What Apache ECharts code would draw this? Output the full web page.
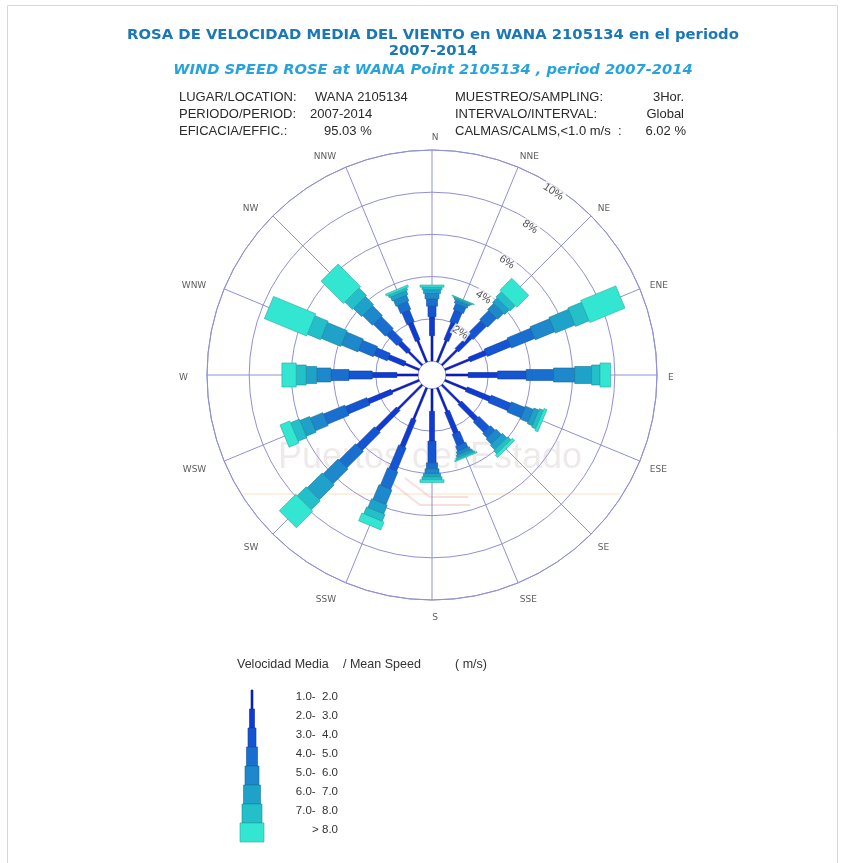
<!DOCTYPE html>
<html><head><meta charset="utf-8">
<script src="https://cdn.jsdelivr.net/npm/echarts@6/dist/echarts.min.js"></script>
<style>html,body{margin:0;padding:0;background:#fff}#c{width:843px;height:863px}</style>
</head><body><div id="c"></div>
<script>
// ---- data ----
const directions = ['N','NNE','NE','ENE','E','ESE','SE','SSE','S','SSW','SW','WSW','W','WNW','NW','NNW'];
const directionAngles = [0,22.5,45,67.5,90,112.5,135,157.5,180,202.5,225,247.5,270,292.5,315,337.5];
const speedBins = ['1.0-  2.0','2.0-  3.0','3.0-  4.0','4.0-  5.0','5.0-  6.0','6.0-  7.0','7.0-  8.0','> 8.0'];
const ringTicks = [2,4,6,8,10];
// cumulative frequency (%) at the end of each speed bin, per direction
const cumN   = [1.2, 2.1, 2.6, 2.95, 3.2, 3.38, 3.5, 3.6];
const cumNNE = [1.1, 2.0, 2.6, 2.9, 3.05, 3.12, 3.17, 3.2];
const cumNE  = [1.0, 1.9, 2.8, 3.4, 3.8, 4.1, 4.45, 5.25];
const cumENE = [1.25, 2.1, 3.3, 4.5, 5.5, 6.5, 7.2, 9.0];
const cumE   = [1.05, 2.45, 3.8, 5.1, 6.1, 6.9, 7.3, 7.8];
const cumESE = [1.1, 2.3, 3.3, 4.0, 4.4, 4.65, 4.85, 5.0];
const cumSE  = [1.2, 2.3, 3.0, 3.3, 3.65, 3.95, 4.15, 4.3];
const cumSSE = [1.2, 2.3, 2.9, 3.15, 3.3, 3.42, 3.5, 3.55];
const cumS   = [1.06, 2.47, 3.5, 3.78, 4.0, 4.16, 4.3, 4.43];
const cumSSW = [1.6, 3.0, 4.2, 5.1, 5.85, 6.3, 6.65, 7.05];
const cumSW  = [1.6, 3.0, 4.2, 5.3, 6.3, 7.3, 7.9, 9.0];
const cumWSW = [1.4, 2.6, 3.7, 4.8, 5.45, 5.95, 6.4, 6.9];
const cumW   = [1.0, 2.17, 3.27, 4.13, 4.8, 5.3, 5.77, 6.45];
const cumWNW = [0.72, 1.56, 2.24, 3.0, 3.85, 4.86, 5.54, 7.7];
const cumNW  = [0.9, 1.5, 2.2, 3.0, 3.65, 4.2, 4.7, 6.2];
const cumNNW = [1.1, 2.0, 2.6, 3.0, 3.3, 3.5, 3.62, 3.72];
const cumByDirection = [cumN,cumNNE,cumNE,cumENE,cumE,cumESE,cumSE,cumSSE,cumS,cumSSW,cumSW,cumWSW,cumW,cumWNW,cumNW,cumNNW];

// ---- styles / layout ----
const BIN_COLORS  = ['#0b20cb','#0f3bd2','#1455d3','#196fd0','#1d88cc','#1fa2c9','#23c0ca','#33e6d2'];
const BIN_STROKES = ['#081890','#0a2a98','#0e3e9a','#12529a','#156898','#177a96','#1a8f98','#25a8a0'];
const BIN_WIDTHS  = [2,5,8,11,14,17,20,24];
const GRID = '#9090d6';
const CX = 432, CY = 375;
const RING_LABEL_ANGLE = 33.5;

const segData = [];
cumByDirection.forEach((cum, d) => {
  cum.forEach((v, b) => {
    segData.push([v, directionAngles[d], b === 0 ? 0 : cum[b-1], b]);
  });
});

function renderSeg(params, api) {
  const r1 = api.value(0), ang = api.value(1), r0 = api.value(2), bin = api.value(3);
  const p0 = api.coord([r0, ang]);
  const p1 = api.coord([r1, ang]);
  const cs = params.coordSys;
  const dx = p1[0] - cs.cx, dy = p1[1] - cs.cy;
  const len = Math.hypot(dx, dy) || 1;
  const nx = -dy / len, ny = dx / len;
  const h = BIN_WIDTHS[bin] / 2;
  return {
    type: 'polygon',
    shape: { points: [
      [p0[0] + nx*h, p0[1] + ny*h], [p1[0] + nx*h, p1[1] + ny*h],
      [p1[0] - nx*h, p1[1] - ny*h], [p0[0] - nx*h, p0[1] - ny*h]
    ] },
    style: { fill: BIN_COLORS[bin], stroke: BIN_STROKES[bin], lineWidth: 0.6 }
  };
}

const ringLabelData = ringTicks.map(t => [t - 0.25, RING_LABEL_ANGLE]);
// compass labels sit on a second (hidden) polar whose outer radius is the label circle
const dirLabelData = directionAngles.map((a) => {
  const s = Math.sin(a * Math.PI / 180);
  const side = s > 0.1 ? 1 : (s < -0.1 ? -1 : 0);
  return {
    value: [1, a],
    label: {
      align: side === 1 ? 'left' : (side === -1 ? 'right' : 'center'),
      offset: [side === 0 ? 3 : -4, 3]
    }
  };
});

// legend graphics
const legendEls = [];
const LX = 252, LTOP = 690, LSTEP = 19;
speedBins.forEach((lab, i) => {
  const w = BIN_WIDTHS[i];
  legendEls.push({ type: 'rect', shape: { x: LX - w/2, y: LTOP + i*LSTEP, width: w, height: LSTEP },
    style: { fill: BIN_COLORS[i], stroke: BIN_STROKES[i], lineWidth: 0.6 }, z: 10 });
  legendEls.push({ type: 'text', x: 338, y: LTOP + i*LSTEP + 7,
    style: { text: lab, align: 'right', verticalAlign: 'middle', font: '11.5px "Liberation Sans"', fill: '#333' }, z: 10 });
});

const infoFont = '13px "Liberation Sans"';
function txt(x, y, s, opt) {
  return Object.assign({ type: 'text', x: x, y: y, z: 10,
    style: Object.assign({ text: s, font: infoFont, fill: '#2a2a2a', verticalAlign: 'middle' }, opt || {}) });
}

const chart = echarts.init(document.getElementById('c'), null, { renderer: 'canvas' });
chart.setOption({
  backgroundColor: '#fff',
  animation: false,
  polar: [
    { center: [CX, CY], radius: [14, 225] },
    { center: [CX, CY], radius: [0, 240] }
  ],
  angleAxis: [
    {
      polarIndex: 0,
      type: 'value', min: 0, max: 360, interval: 22.5, startAngle: 90, clockwise: true,
      axisLine: { show: true, lineStyle: { color: GRID, width: 1 } },
      axisTick: { show: false },
      splitLine: { show: true, lineStyle: { color: GRID, width: 1 } },
      axisLabel: { show: false }
    },
    {
      polarIndex: 1,
      type: 'value', min: 0, max: 360, startAngle: 90, clockwise: true,
      axisLine: { show: false }, axisTick: { show: false }, splitLine: { show: false }, axisLabel: { show: false }
    }
  ],
  radiusAxis: [
    {
      polarIndex: 0,
      type: 'value', min: 0, max: 10, interval: 2,
      axisLine: { show: false }, axisTick: { show: false }, axisLabel: { show: false },
      splitLine: { show: true, lineStyle: { color: ['rgba(0,0,0,0)', GRID, GRID, GRID, GRID, GRID], width: 1 } }
    },
    {
      polarIndex: 1,
      type: 'value', min: 0, max: 1,
      axisLine: { show: false }, axisTick: { show: false }, axisLabel: { show: false }, splitLine: { show: false }
    }
  ],
  series: [
    {
      type: 'custom', coordinateSystem: 'polar', polarIndex: 0, renderItem: renderSeg,
      encode: { radius: 0, angle: 1 }, data: segData, z: 3
    },
    {
      type: 'scatter', coordinateSystem: 'polar', polarIndex: 0, data: ringLabelData, symbolSize: 1,
      itemStyle: { color: 'rgba(0,0,0,0)' }, z: 5, silent: true,
      label: {
        show: true, position: 'inside', rotate: -33.5,
        formatter: p => ringTicks[p.dataIndex] + '%',
        fontSize: 11, color: '#222', fontFamily: 'Liberation Sans',
        backgroundColor: '#fff', padding: [0, 1]
      }
    },
    {
      type: 'scatter', coordinateSystem: 'polar', polarIndex: 1, data: dirLabelData, symbolSize: 1,
      itemStyle: { color: 'rgba(0,0,0,0)' }, z: 5, silent: true,
      label: {
        show: true, position: 'inside', verticalAlign: 'middle',
        formatter: p => directions[p.dataIndex],
        fontSize: 9, color: '#333', fontFamily: 'DejaVu Sans'
      }
    }
  ],
  graphic: [
    { type: 'rect', shape: { x: 7.5, y: 5.5, width: 830, height: 870 }, style: { fill: 'none', stroke: '#d8d8d8', lineWidth: 1 }, z: 0 },
    { type: 'text', x: 433, y: 35, z: 10, style: { text: 'ROSA DE VELOCIDAD MEDIA DEL VIENTO en WANA 2105134 en el periodo', align: 'center', verticalAlign: 'middle', font: 'bold 14.8px "DejaVu Sans"', fill: '#1a78b6' } },
    { type: 'text', x: 433, y: 51, z: 10, style: { text: '2007-2014', align: 'center', verticalAlign: 'middle', font: 'bold 14.8px "DejaVu Sans"', fill: '#1a78b6' } },
    { type: 'text', x: 433, y: 70, z: 10, style: { text: 'WIND SPEED ROSE at WANA Point 2105134 , period 2007-2014', align: 'center', verticalAlign: 'middle', font: 'italic bold 14.7px "DejaVu Sans"', fill: '#27a3dc' } },
    txt(179, 97, 'LUGAR/LOCATION:'), txt(315, 97, 'WANA 2105134'),
    txt(179, 114, 'PERIODO/PERIOD:'), txt(310, 114, '2007-2014'),
    txt(179, 131, 'EFICACIA/EFFIC.:'), txt(324, 131, '95.03 %'),
    txt(455, 97, 'MUESTREO/SAMPLING:'), txt(684, 97, '3Hor.', { align: 'right' }),
    txt(455, 114, 'INTERVALO/INTERVAL:'), txt(684, 114, 'Global', { align: 'right' }),
    txt(455, 131, 'CALMAS/CALMS,<1.0 m/s  :'), txt(686, 131, '6.02 %', { align: 'right' }),
    { type: 'text', x: 430, y: 458, z: 1, style: { text: 'Puertos del Estado', align: 'center', verticalAlign: 'middle', font: '36px "Liberation Sans"', fill: 'rgba(200,185,185,0.3)' } },
    { type: 'line', shape: { x1: 240, y1: 494, x2: 620, y2: 494 }, style: { stroke: 'rgba(240,190,120,0.3)', lineWidth: 1.5 }, z: 1 },
    { type: 'polyline', shape: { points: [[392, 483], [420, 505], [470, 505]] }, style: { stroke: 'rgba(220,110,110,0.22)', lineWidth: 2, fill: 'none' }, z: 1 },
    { type: 'polyline', shape: { points: [[405, 478], [430, 497], [468, 497]] }, style: { stroke: 'rgba(220,110,110,0.22)', lineWidth: 2, fill: 'none' }, z: 1 },
    { type: 'text', x: 237, y: 665, z: 10, style: { text: 'Velocidad Media', verticalAlign: 'middle', font: '12.5px "Liberation Sans"', fill: '#333' } },
    { type: 'text', x: 343, y: 665, z: 10, style: { text: '/ Mean Speed', verticalAlign: 'middle', font: '12.5px "Liberation Sans"', fill: '#333' } },
    { type: 'text', x: 455, y: 665, z: 10, style: { text: '( m/s)', verticalAlign: 'middle', font: '12.5px "Liberation Sans"', fill: '#333' } }
  ].concat(legendEls)
});
</script>
</body></html>
